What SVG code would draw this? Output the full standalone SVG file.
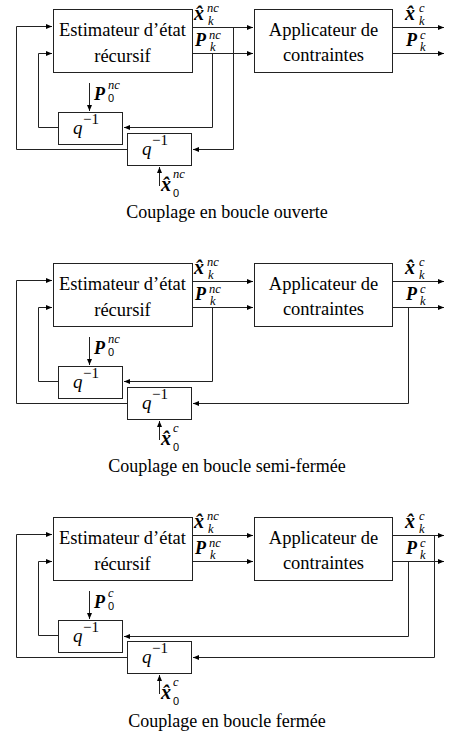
<svg xmlns="http://www.w3.org/2000/svg" width="453" height="738" viewBox="0 0 453 738">
<style>
text{font-family:'Times New Roman',Times,'Liberation Serif',serif;fill:#000}
.box{fill:#fff;stroke:#222;stroke-width:1}
.ln{fill:none;stroke:#222;stroke-width:1}
.t{font-size:18.5px;text-anchor:middle}
.cap{font-size:18px;text-anchor:middle}
.m{font-size:18px;font-weight:bold;font-style:italic}
.mx{font-size:20px;font-weight:bold;font-style:italic}
.s{font-size:12.5px;font-style:italic}
.z{font-family:Arial,'Liberation Sans',sans-serif;font-size:11px}
.q{font-size:19px;font-style:italic}
.qs{font-size:15px}
</style>
<defs>
<marker id="ah" markerUnits="userSpaceOnUse" markerWidth="7" markerHeight="6" refX="6" refY="2.5" orient="auto">
<path d="M0,0 L6,2.5 L0,5 z" fill="#000"/>
</marker>
</defs>

<!-- Panel 1 -->
<g id="panel1">
<g id="p1-estimateur"><rect class="box" x="53.5" y="9.5" width="139" height="63"/><text class="t" x="122.5" y="36">Estimateur d’état</text><text class="t" x="122.5" y="62">récursif</text></g>
<g id="p1-applicateur"><rect class="box" x="254.5" y="9.5" width="138" height="63"/><text class="t" x="323.5" y="36">Applicateur de</text><text class="t" x="323.5" y="61">contraintes</text></g>
<g id="p1-delay1"><rect class="box" x="58.5" y="112.5" width="64" height="32"/><text class="q" x="73" y="134">q</text><text class="qs" x="83" y="124">−1</text></g>
<g id="p1-delay2"><rect class="box" x="127.5" y="133.5" width="64" height="32"/><text class="q" x="142" y="155">q</text><text class="qs" x="152" y="145">−1</text></g>
<g id="p1-connectors">
<path class="ln" d="M192.5,27.5 H253" marker-end="url(#ah)"/>
<path class="ln" d="M192.5,53.5 H253" marker-end="url(#ah)"/>
<path class="ln" d="M392.5,27.5 H444" marker-end="url(#ah)"/>
<path class="ln" d="M392.5,53.5 H444" marker-end="url(#ah)"/>
<path class="ln" d="M58.5,127.5 H38.5 V53.5 H52" marker-end="url(#ah)"/>
<path class="ln" d="M127.5,149.5 H16.5 V26.5 H52" marker-end="url(#ah)"/>
<path class="ln" d="M89.5,83 V111" marker-end="url(#ah)"/>
<path class="ln" d="M159.5,186 V167" marker-end="url(#ah)"/>
<path class="ln" d="M212.5,53.5 V127.5 H124" marker-end="url(#ah)"/>
<path class="ln" d="M233.5,27.5 V149.5 H193" marker-end="url(#ah)"/>
</g>
<g id="p1-labels">
<text class="mx" x="194" y="20">x̂</text><text class="s" x="207" y="12">nc</text><text class="s" x="208" y="25">k</text>
<text class="m" x="195" y="46">P</text><text class="s" x="209" y="38.5">nc</text><text class="s" x="210" y="51">k</text>
<text class="mx" x="405" y="20">x̂</text><text class="s" x="419" y="12">c</text><text class="s" x="419" y="25">k</text>
<text class="m" x="406" y="46">P</text><text class="s" x="420" y="38.5">c</text><text class="s" x="420" y="51">k</text>
<text class="m" x="94" y="100">P</text><text class="s" x="108" y="89">nc</text><text class="z" x="108" y="102">0</text>
<text class="mx" x="161" y="191">x̂</text><text class="s" x="173" y="178">nc</text><text class="z" x="173" y="197">0</text>
</g>
<text class="cap" x="227" y="218">Couplage en boucle ouverte</text>
</g>

<!-- Panel 2 -->
<g id="panel2" transform="translate(0,254)">
<g id="p2-estimateur"><rect class="box" x="53.5" y="9.5" width="139" height="63"/><text class="t" x="122.5" y="36">Estimateur d’état</text><text class="t" x="122.5" y="62">récursif</text></g>
<g id="p2-applicateur"><rect class="box" x="254.5" y="9.5" width="138" height="63"/><text class="t" x="323.5" y="36">Applicateur de</text><text class="t" x="323.5" y="61">contraintes</text></g>
<g id="p2-delay1"><rect class="box" x="58.5" y="112.5" width="64" height="32"/><text class="q" x="73" y="134">q</text><text class="qs" x="83" y="124">−1</text></g>
<g id="p2-delay2"><rect class="box" x="127.5" y="133.5" width="64" height="32"/><text class="q" x="142" y="155">q</text><text class="qs" x="152" y="145">−1</text></g>
<g id="p2-connectors">
<path class="ln" d="M192.5,27.5 H253" marker-end="url(#ah)"/>
<path class="ln" d="M192.5,53.5 H253" marker-end="url(#ah)"/>
<path class="ln" d="M392.5,27.5 H444" marker-end="url(#ah)"/>
<path class="ln" d="M392.5,53.5 H444" marker-end="url(#ah)"/>
<path class="ln" d="M58.5,127.5 H38.5 V53.5 H52" marker-end="url(#ah)"/>
<path class="ln" d="M127.5,149.5 H16.5 V26.5 H52" marker-end="url(#ah)"/>
<path class="ln" d="M89.5,83 V111" marker-end="url(#ah)"/>
<path class="ln" d="M159.5,186 V167" marker-end="url(#ah)"/>
<path class="ln" d="M212.5,53.5 V127.5 H124" marker-end="url(#ah)"/>
<path class="ln" d="M408.5,53.5 V149.5 H193" marker-end="url(#ah)"/>
</g>
<g id="p2-labels">
<text class="mx" x="194" y="20">x̂</text><text class="s" x="207" y="12">nc</text><text class="s" x="208" y="25">k</text>
<text class="m" x="195" y="46">P</text><text class="s" x="209" y="38.5">nc</text><text class="s" x="210" y="51">k</text>
<text class="mx" x="405" y="20">x̂</text><text class="s" x="419" y="12">c</text><text class="s" x="419" y="25">k</text>
<text class="m" x="406" y="46">P</text><text class="s" x="420" y="38.5">c</text><text class="s" x="420" y="51">k</text>
<text class="m" x="94" y="100">P</text><text class="s" x="108" y="89">nc</text><text class="z" x="108" y="102">0</text>
<text class="mx" x="161" y="191">x̂</text><text class="s" x="173" y="178">c</text><text class="z" x="173" y="197">0</text>
</g>
<text class="cap" x="227" y="218">Couplage en boucle semi-fermée</text>
</g>

<!-- Panel 3 -->
<g id="panel3" transform="translate(0,508)">
<g id="p3-estimateur"><rect class="box" x="53.5" y="9.5" width="139" height="63"/><text class="t" x="122.5" y="36">Estimateur d’état</text><text class="t" x="122.5" y="62">récursif</text></g>
<g id="p3-applicateur"><rect class="box" x="254.5" y="9.5" width="138" height="63"/><text class="t" x="323.5" y="36">Applicateur de</text><text class="t" x="323.5" y="61">contraintes</text></g>
<g id="p3-delay1"><rect class="box" x="58.5" y="112.5" width="64" height="32"/><text class="q" x="73" y="134">q</text><text class="qs" x="83" y="124">−1</text></g>
<g id="p3-delay2"><rect class="box" x="127.5" y="133.5" width="64" height="32"/><text class="q" x="142" y="155">q</text><text class="qs" x="152" y="145">−1</text></g>
<g id="p3-connectors">
<path class="ln" d="M192.5,27.5 H253" marker-end="url(#ah)"/>
<path class="ln" d="M192.5,53.5 H253" marker-end="url(#ah)"/>
<path class="ln" d="M392.5,27.5 H444" marker-end="url(#ah)"/>
<path class="ln" d="M392.5,53.5 H444" marker-end="url(#ah)"/>
<path class="ln" d="M58.5,127.5 H38.5 V53.5 H52" marker-end="url(#ah)"/>
<path class="ln" d="M127.5,149.5 H16.5 V26.5 H52" marker-end="url(#ah)"/>
<path class="ln" d="M89.5,83 V111" marker-end="url(#ah)"/>
<path class="ln" d="M159.5,186 V167" marker-end="url(#ah)"/>
<path class="ln" d="M408.5,53.5 V128.5 H124" marker-end="url(#ah)"/>
<path class="ln" d="M434.5,27.5 V149.5 H193" marker-end="url(#ah)"/>
</g>
<g id="p3-labels">
<text class="mx" x="194" y="20">x̂</text><text class="s" x="207" y="12">nc</text><text class="s" x="208" y="25">k</text>
<text class="m" x="195" y="46">P</text><text class="s" x="209" y="38.5">nc</text><text class="s" x="210" y="51">k</text>
<text class="mx" x="405" y="20">x̂</text><text class="s" x="419" y="12">c</text><text class="s" x="419" y="25">k</text>
<text class="m" x="406" y="46">P</text><text class="s" x="420" y="38.5">c</text><text class="s" x="420" y="51">k</text>
<text class="m" x="94" y="100">P</text><text class="s" x="108" y="89">c</text><text class="z" x="108" y="102">0</text>
<text class="mx" x="161" y="191">x̂</text><text class="s" x="173" y="178">c</text><text class="z" x="173" y="197">0</text>
</g>
<text class="cap" x="227" y="219">Couplage en boucle fermée</text>
</g>
</svg>
